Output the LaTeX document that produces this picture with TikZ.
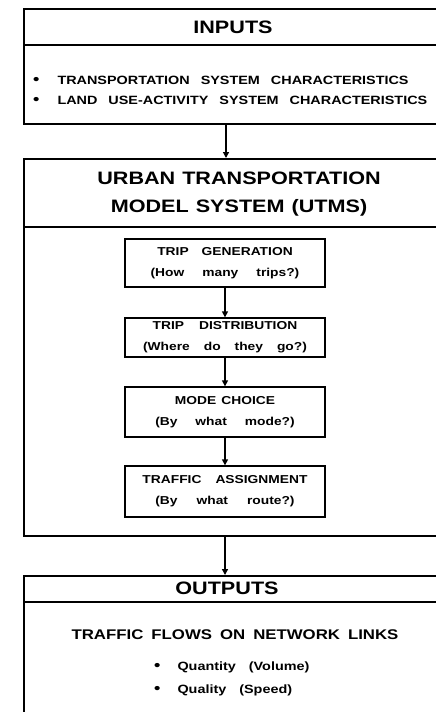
\documentclass[tikz,border=0pt]{standalone}
\usepackage{fontspec}
\setmainfont{Liberation Sans}[FakeStretch=1.2]
\usetikzlibrary{arrows.meta}
\newcommand\wsp[1]{\spaceskip=#1\relax}
\newcommand\bul{{\fontsize{15}{15}\selectfont •}}
\tikzset{
  outer/.style={draw, line width=2.4pt, anchor=north west, inner sep=0pt, minimum width=460pt},
  divider/.style={line width=2pt},
  inner/.style={draw, line width=1.3pt, minimum width=200pt, inner sep=0pt, align=center,
     font=\bfseries\fontsize{11.5}{21}\selectfont},
  head/.style={inner sep=0pt, align=center, font=\bfseries\fontsize{18}{28}\selectfont\wsp{7pt}},
  bodytxt/.style={inner sep=0pt, anchor=west, font=\bfseries\fontsize{12}{14}\selectfont\wsp{11pt}},
  arr/.style={line width=1.3pt, -{Triangle[length=6pt,width=6pt]}}
}
\begin{document}
\begin{tikzpicture}[x=1pt,y=-1pt]
\useasboundingbox (0,0) rectangle (436,712);
\clip (0,0) rectangle (436,712);
% INPUTS
\node[outer, minimum height=115pt] (inputs) at (23,8) {};
\draw[divider] (23,45) -- (470,45);
\node[head] (inputsh) at (233,27) {INPUTS};
\node[bodytxt] (in1) at (33,80) {\bul\hspace{18pt}TRANSPORTATION SYSTEM CHARACTERISTICS};
\node[bodytxt] (in2) at (33,100) {\bul\hspace{18pt}LAND USE-ACTIVITY SYSTEM CHARACTERISTICS};
% UTMS
\node[outer, minimum height=377pt] (utms) at (23,158) {};
\draw[divider] (23,227) -- (470,227);
\node[head] (utmsh) at (239,194) {URBAN TRANSPORTATION\\MODEL SYSTEM (UTMS)};
\node[inner, minimum height=48pt] (gen) at (225,263) {\wsp{13pt}TRIP GENERATION\\\wsp{18pt}(How many trips?)};
\node[inner, minimum height=39pt] (dist) at (225,337.5) {\wsp{15pt}TRIP DISTRIBUTION\\\wsp{14pt}(Where do they go?)};
\node[inner, minimum height=50pt] (mode) at (225,412) {\wsp{5pt}MODE CHOICE\\\wsp{18pt}(By what mode?)};
\node[inner, minimum height=51pt] (assign) at (225,491.5) {\wsp{14pt}TRAFFIC ASSIGNMENT\\\wsp{19pt}(By what route?)};
% OUTPUTS
\node[outer, minimum height=150pt] (outputs) at (23,575) {};
\draw[divider] (23,602) -- (470,602);
\node[head] (outputsh) at (227,588) {OUTPUTS};
\node[inner sep=0pt, font=\bfseries\fontsize{14}{16}\selectfont\wsp{8pt}] (flows) at (235,635) {TRAFFIC FLOWS ON NETWORK LINKS};
\node[bodytxt, font=\bfseries\fontsize{12}{14}\selectfont\wsp{13pt}] (q1) at (154,667) {\bul\hspace{17pt}Quantity (Volume)};
\node[bodytxt, font=\bfseries\fontsize{12}{14}\selectfont\wsp{13pt}] (q2) at (154,690) {\bul\hspace{17pt}Quality (Speed)};
% connectors
\coordinate (c1) at (226,0);
\draw[arr] (inputs.south -| c1) -- (utms.north -| c1);
\draw[arr] (gen) -- (dist);
\draw[arr] (dist) -- (mode);
\draw[arr] (mode) -- (assign);
\draw[arr] (utms.south -| gen.south) -- (outputs.north -| gen.south);
\end{tikzpicture}
\end{document}
